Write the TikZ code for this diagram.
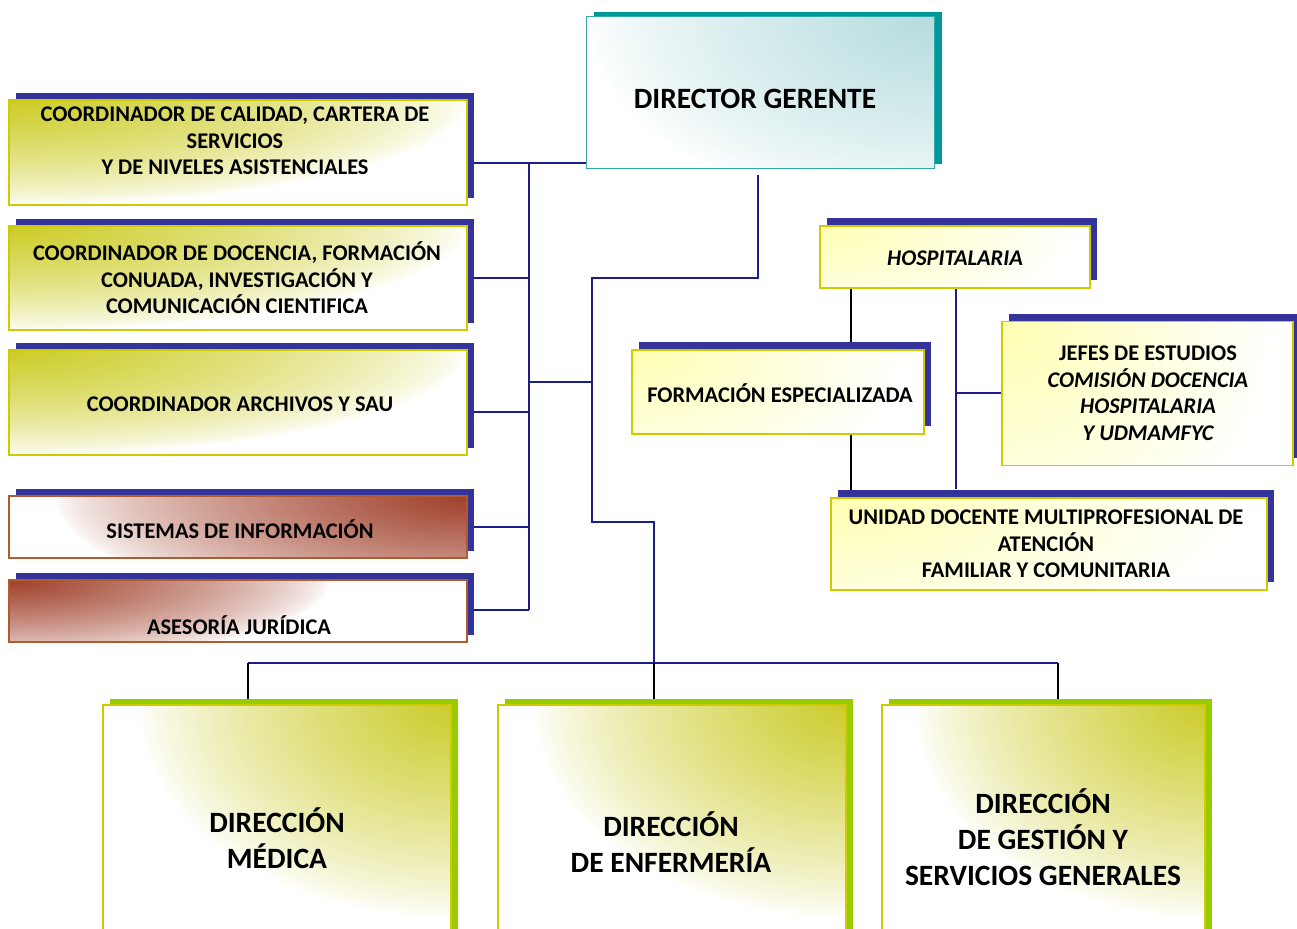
\documentclass[tikz,border=0pt]{standalone}
\usepackage{fontspec}
\setmainfont{Carlito}
\usetikzlibrary{shadows}
\definecolor{navyS}{HTML}{333399}
\definecolor{tealS}{HTML}{009999}
\definecolor{greenS}{HTML}{99CC00}
\definecolor{yBorder}{HTML}{CCCC00}
\definecolor{brownB}{HTML}{B05A30}
\definecolor{tealB}{HTML}{33AAAA}
\definecolor{lineB}{HTML}{1C1C8C}
% functional shadings: stack x y (0..100bp, box = inner 25..75)
% olive, from top-left corner (left boxes)
\pgfdeclarefunctionalshading{sOlTL}{\pgfpointorigin}{\pgfpoint{100bp}{100bp}}{}{
75 exch sub 50 div 1.0 div
exch 25 sub 50 div 1.0 div
dup mul exch dup mul add sqrt
1 exch sub dup abs add 2 div 0.7 exp
dup 0.2 mul 1 exch sub
exch dup 0.2 mul 1 exch sub
exch 0.85 mul 1 exch sub
}
% olive, from top-right corner (bottom boxes)
\pgfdeclarefunctionalshading{sOlTR}{\pgfpointorigin}{\pgfpoint{100bp}{100bp}}{}{
75 exch sub 50 div 0.85 div
exch 75 exch sub 50 div 0.9 div
dup mul exch dup mul add sqrt
1 exch sub dup abs add 2 div 0.8 exp
dup 0.2 mul 1 exch sub
exch dup 0.2 mul 1 exch sub
exch 0.82 mul 1 exch sub
}
% teal, from top-right corner (director)
\pgfdeclarefunctionalshading{sTeTR}{\pgfpointorigin}{\pgfpoint{100bp}{100bp}}{}{
75 exch sub 50 div 1.3 div
exch 75 exch sub 50 div 1.0 div
dup mul exch dup mul add sqrt
1 exch sub dup abs add 2 div 0.8 exp
dup 0.29 mul 1 exch sub
exch dup 0.137 mul 1 exch sub
exch 0.129 mul 1 exch sub
}
% brown, from top-right corner
\pgfdeclarefunctionalshading{sBrTR}{\pgfpointorigin}{\pgfpoint{100bp}{100bp}}{}{
75 exch sub 50 div 2.0 div
exch 75 exch sub 50 div 0.9 div
dup mul exch dup mul add sqrt
1 exch sub dup abs add 2 div 0.7 exp
dup 0.373 mul 1 exch sub
exch dup 0.749 mul 1 exch sub
exch 0.835 mul 1 exch sub
}
% brown, from top-left corner
\pgfdeclarefunctionalshading{sBrTL}{\pgfpointorigin}{\pgfpoint{100bp}{100bp}}{}{
75 exch sub 50 div 1.3 div
exch 25 sub 50 div 0.7 div
dup mul exch dup mul add sqrt
1 exch sub dup abs add 2 div 0.7 exp
dup 0.373 mul 1 exch sub
exch dup 0.749 mul 1 exch sub
exch 0.835 mul 1 exch sub
}
% pale yellow, from top-left corner
\pgfdeclarefunctionalshading{sPaTL}{\pgfpointorigin}{\pgfpoint{100bp}{100bp}}{}{
75 exch sub 50 div 1.8 div
exch 25 sub 50 div 0.95 div
dup mul exch dup mul add sqrt
1 exch sub dup abs add 2 div
dup 0.0 mul 1 exch sub
exch dup 0.0 mul 1 exch sub
exch 0.3 mul 1 exch sub
}
\tikzset{
  boxbase/.style={draw, shade, inner sep=0pt, line width=1.3pt},
  ybox/.style={boxbase, draw=yBorder, shading=sOlTL,
    general shadow={fill=navyS, shadow xshift=7pt, shadow yshift=7pt}},
  bbox/.style={boxbase, draw=brownB,
    general shadow={fill=navyS, shadow xshift=7pt, shadow yshift=7pt}},
  pbox/.style={boxbase, draw=yBorder, shading=sPaTL,
    general shadow={fill=navyS, shadow xshift=7pt, shadow yshift=8pt}},
  gbox/.style={boxbase, draw=yBorder, shading=sOlTR,
    general shadow={fill=greenS, shadow xshift=7pt, shadow yshift=6pt}},
  dbox/.style={boxbase, draw=tealB, line width=1pt, shading=sTeTR,
    general shadow={fill=tealS, shadow xshift=8pt, shadow yshift=5pt}},
  stxt/.style={align=center, font=\fontsize{22.4}{26.5}\selectfont\bfseries, inner sep=0pt},
  ltxt/.style={align=center, font=\fontsize{29.5}{36}\selectfont\bfseries, inner sep=0pt},
  conn/.style={draw=lineB, line width=1.3pt},
  trunk/.style={draw=lineB, line width=2.6pt},
  blk/.style={draw=black, line width=1.3pt},
}
\begin{document}
\begin{tikzpicture}[x=1pt, y=-1pt]
\path[use as bounding box] (0,0) rectangle (1297,928);
\clip (0,0) rectangle (1297,928);
\fill[white] (0,0) rectangle (1297,928);

% coordinates for connectors
\coordinate (tTop) at (529,163);
\coordinate (t2) at (529,278);
\coordinate (tMid) at (529,382);
\coordinate (t3) at (529,412);
\coordinate (t4) at (529,527);
\coordinate (tBot) at (529,610);
\coordinate (d0) at (758,175);
\coordinate (r1) at (592,278);
\coordinate (r2) at (654,522);
\coordinate (s1) at (592,382);
\coordinate (bJ) at (654,663);
\coordinate (bL) at (248,663);
\coordinate (bR) at (1058,663);

% ---- connectors first
\draw[trunk] (tTop) -- (tBot);
\draw[trunk] (586,163) -- (tTop);
\draw[conn] (474,163) -- (tTop);
\draw[conn] (474,278) -- (t2);
\draw[conn] (474,412) -- (t3);
\draw[conn] (474,527) -- (t4);
\draw[conn] (467,610) -- (tBot);
\draw[conn] (tMid) -- (s1);
\draw[conn] (d0) |- (r1) |- (r2) -- (bJ);
\draw[conn] (bL) -- (bR);
\draw[blk] (bL) -- (248,700);
\draw[blk] (bJ) -- (654,704);
\draw[blk] (bR) -- (1058,700);
\draw[blk] (851,288) -- (851,350);
\draw[blk] (851,434) -- (851,490);
\draw[conn] (956,288) -- (956,489);
\draw[conn] (956,393) -- (1002,393);

% ---- boxes
\node[dbox, minimum width=348pt, minimum height=152pt] (director) at (760,93) {};
\node[ybox, minimum width=458pt, minimum height=105pt] (calidad) at (238,152.5) {};
\node[ybox, minimum width=458pt, minimum height=104pt] (docencia) at (238,278) {};
\node[ybox, minimum width=458pt, minimum height=105pt] (archivos) at (238,402.5) {};
\node[bbox, shading=sBrTR, minimum width=458pt, minimum height=62pt] (sistemas) at (238,527) {};
\node[bbox, shading=sBrTL, minimum width=458pt, minimum height=62pt] (asesoria) at (238,611) {};
\node[pbox, minimum width=270pt, minimum height=62pt] (hosp) at (955,257) {};
\node[pbox, minimum width=292pt, minimum height=84pt] (formacion) at (778,392) {};
\node[pbox, minimum width=291pt, minimum height=144pt] (jefes) at (1147.5,393.5) {};
\node[pbox, minimum width=436pt, minimum height=92pt] (unidad) at (1049,544) {};
\node[gbox, minimum width=348pt, minimum height=250pt] (medica) at (277,830) {};
\node[gbox, minimum width=348pt, minimum height=250pt] (enfermeria) at (672,830) {};
\node[gbox, minimum width=323pt, minimum height=250pt] (gestion) at (1043.5,830) {};

% ---- texts
\node[ltxt] (tDir) at (755,99) {DIRECTOR GERENTE};
\node[stxt] (tCal) at (235,141) {COORDINADOR DE CALIDAD, CARTERA DE\\SERVICIOS\\Y DE NIVELES ASISTENCIALES};
\node[stxt] (tDoc) at (237,278) {COORDINADOR DE DOCENCIA, FORMACIÓN\\CONUADA, INVESTIGACIÓN Y\\COMUNICACIÓN CIENTIFICA};
\node[stxt] (tArc) at (240,404) {COORDINADOR ARCHIVOS Y SAU};
\node[stxt] (tSis) at (240,529) {SISTEMAS DE INFORMACIÓN};
\node[stxt] (tAse) at (239,625) {ASESORÍA JURÍDICA};
\node[stxt, font=\fontsize{22.4}{26.5}\selectfont\bfseries\itshape] (tHos) at (955,258) {HOSPITALARIA};
\node[stxt] (tFor) at (780,393) {FORMACIÓN ESPECIALIZADA};
\node[stxt] (tJef) at (1148,393) {JEFES DE ESTUDIOS\\\itshape COMISIÓN DOCENCIA\\\itshape HOSPITALARIA\\\itshape Y UDMAMFYC};
\node[stxt] (tUni) at (1046,544) {UNIDAD DOCENTE MULTIPROFESIONAL DE\\ATENCIÓN\\FAMILIAR Y COMUNITARIA};
\node[ltxt] (tMed) at (277,838) {DIRECCIÓN\\MÉDICA};
\node[ltxt] (tEnf) at (671,842) {DIRECCIÓN\\DE ENFERMERÍA};
\node[ltxt] (tGes) at (1043,837) {DIRECCIÓN\\DE GESTIÓN Y\\SERVICIOS GENERALES};
\end{tikzpicture}
\end{document}
